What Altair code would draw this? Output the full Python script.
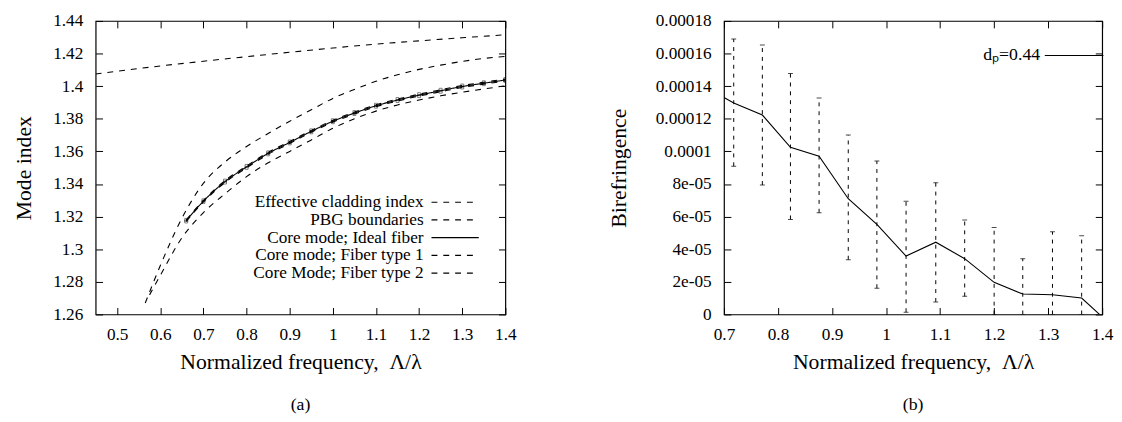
import altair as alt
import pandas as pd

FONT = "Liberation Serif"

# ---------------- Panel (a): mode index ----------------
series_names = [
    "Effective cladding index",
    "PBG boundaries",
    "Core mode; Ideal fiber",
    "Core mode; Fiber type 1",
    "Core Mode; Fiber type 2",
]

clad_x = [0.45, 0.5, 0.6, 0.7, 0.8, 0.9, 1.0, 1.1, 1.2, 1.3, 1.4]
clad_y = [1.4075, 1.4092, 1.4124, 1.4153, 1.4181, 1.4208, 1.4234, 1.4258, 1.4278, 1.4297, 1.4315]

pbg_up_x = [0.565, 0.6, 0.65, 0.7, 0.75, 0.8, 0.85, 0.9, 0.95, 1.0, 1.05, 1.1, 1.15, 1.2, 1.25, 1.3, 1.35, 1.4]
pbg_up_y = [1.267, 1.290, 1.319, 1.3405, 1.3535, 1.3630, 1.371, 1.3785, 1.3855, 1.3925, 1.398, 1.403, 1.407, 1.4103, 1.4129, 1.4152, 1.417, 1.4183]

pbg_lo_x = [0.575, 0.6, 0.65, 0.7, 0.75, 0.8, 0.85, 0.9, 0.95, 1.0, 1.05, 1.1, 1.15, 1.2, 1.25, 1.3, 1.35, 1.4]
pbg_lo_y = [1.272, 1.284, 1.3070, 1.3225, 1.334, 1.3445, 1.3530, 1.3600, 1.3670, 1.3742, 1.380, 1.3847, 1.3885, 1.3915, 1.3941, 1.3963, 1.3983, 1.4002]

core_x = [0.66, 0.70, 0.75, 0.80, 0.85, 0.90, 0.95, 1.00, 1.05, 1.10, 1.15, 1.20, 1.25, 1.30, 1.35, 1.40]
core_ideal = [1.3175, 1.3295, 1.3415, 1.3505, 1.3588, 1.3655, 1.3723, 1.3785, 1.3835, 1.3880, 1.3915, 1.3945, 1.3972, 1.3998, 1.4018, 1.4038]
core_type1 = [1.3180, 1.3300, 1.3421, 1.3511, 1.3594, 1.3661, 1.3729, 1.3791, 1.3841, 1.3886, 1.3921, 1.3951, 1.3978, 1.4004, 1.4024, 1.4044]
core_type2 = [1.3170, 1.3290, 1.3409, 1.3499, 1.3582, 1.3649, 1.3717, 1.3779, 1.3829, 1.3874, 1.3909, 1.3939, 1.3966, 1.3992, 1.4012, 1.4032]

dash_styles = [[6, 6], [6, 6], [1, 0], [6, 6], [6, 6]]

x_ticks_a = [0.5, 0.6, 0.7, 0.8, 0.9, 1.0, 1.1, 1.2, 1.3, 1.4]
y_ticks_a = [1.26, 1.28, 1.30, 1.32, 1.34, 1.36, 1.38, 1.40, 1.42, 1.44]

# ---------------- Panel (b): birefringence ----------------
biref_label = "dₚ=0.44"
line_x = [0.7, 0.718, 0.771, 0.823, 0.876, 0.930, 0.983, 1.037, 1.092, 1.1455, 1.200, 1.253, 1.308, 1.362, 1.395]
line_y = [1.33e-4, 1.297e-4, 1.223e-4, 1.025e-4, 0.971e-4, 0.71e-4, 0.553e-4, 0.358e-4,
          0.443e-4, 0.342e-4, 0.197e-4, 0.125e-4, 0.121e-4, 0.101e-4, 0.0]
err_x = [0.718, 0.771, 0.823, 0.876, 0.930, 0.983, 1.037, 1.092, 1.1455, 1.200, 1.253, 1.308, 1.362]
err_hi = [1.689e-4, 1.653e-4, 1.478e-4, 1.327e-4, 1.10e-4, 0.941e-4, 0.694e-4, 0.808e-4,
          0.579e-4, 0.533e-4, 0.342e-4, 0.507e-4, 0.483e-4]
err_lo = [0.909e-4, 0.794e-4, 0.583e-4, 0.624e-4, 0.336e-4, 0.161e-4, 0.014e-4, 0.077e-4,
          0.111e-4, 0.0, 0.0, 0.0, 0.0]

x_ticks_b = [0.7, 0.8, 0.9, 1.0, 1.1, 1.2, 1.3, 1.4]
y_ticks_b = [0, 2e-5, 4e-5, 6e-5, 8e-5, 1e-4, 1.2e-4, 1.4e-4, 1.6e-4, 1.8e-4]

# ---------------- build tables ----------------
rows = []
for x, y in zip(clad_x, clad_y):
    rows.append({"x": x, "y": y, "series": series_names[0], "branch": "clad"})
for x, y in zip(pbg_up_x, pbg_up_y):
    rows.append({"x": x, "y": y, "series": series_names[1], "branch": "pbg_up"})
for x, y in zip(pbg_lo_x, pbg_lo_y):
    rows.append({"x": x, "y": y, "series": series_names[1], "branch": "pbg_lo"})
for vals, name in [(core_ideal, series_names[2]), (core_type1, series_names[3]), (core_type2, series_names[4])]:
    for x, y in zip(core_x, vals):
        rows.append({"x": x, "y": y, "series": name, "branch": name})
dfa = pd.DataFrame(rows)
df_markers = dfa[dfa["series"].isin(series_names[3:])]

df_line = pd.DataFrame({"x": line_x, "y": line_y, "label": biref_label})
df_err = pd.DataFrame({"x": err_x, "hi": err_hi, "lo": err_lo})

TICK = 7


def axis(orient, values=None, fmt=None, title=None, labels=True, label_pad=12, title_pad=10, label_expr=None):
    kw = dict(
        orient=orient, domain=False, ticks=True, tickSize=TICK, offset=-TICK,
        tickColor="black", tickWidth=1, grid=False, labels=labels, tickCount=30,
        labelFont=FONT, labelFontSize=17.5, labelColor="black", labelPadding=label_pad,
        labelFlush=False, labelOverlap=False,
        titleFont=FONT, titleFontSize=22, titleFontWeight="normal", titleColor="black",
        titlePadding=title_pad,
    )
    if values is not None:
        kw["values"] = values
    if fmt is not None:
        kw["format"] = fmt
    if label_expr is not None:
        kw["labelExpr"] = label_expr
    kw["title"] = title if title is not None else ""
    return alt.Axis(**kw)


# ---------------- Panel (a) chart ----------------
xs_a = alt.Scale(domain=[0.45, 1.4], nice=False, zero=False)
ys_a = alt.Scale(domain=[1.26, 1.44], nice=False, zero=False)

lines_a = alt.Chart(dfa).mark_line(color="black", strokeWidth=1.1, clip=True, interpolate="monotone").encode(
    x=alt.X("x:Q", scale=xs_a,
            axis=axis("bottom", x_ticks_a, ".1~f", "Normalized frequency,\u00a0 Λ/λ", label_pad=11, title_pad=9)),
    y=alt.Y("y:Q", scale=ys_a,
            axis=axis("left", y_ticks_a, ".2~f", "Mode index", label_pad=13, title_pad=18)),
    strokeDash=alt.StrokeDash(
        "series:N",
        scale=alt.Scale(domain=series_names, range=dash_styles),
        sort=series_names,
        legend=alt.Legend(
            title=None, orient="none", legendX=356, legendY=175,
            symbolType="M-3,0H3", symbolSize=256, symbolStrokeWidth=1.1,
            symbolStrokeColor="black", symbolFillColor="transparent",
            labelAlign="right", labelOffset={"expr": "-41"}, labelFont=FONT, labelFontSize=17.5,
            labelColor="black", labelLimit=400, rowPadding=0, padding=0,
        ),
    ),
    detail="branch:N",
)

markers_a = alt.Chart(df_markers).mark_point(
    shape="square", size=9, filled=False, color="black", strokeWidth=0.7, clip=True
).encode(
    x=alt.X("x:Q", scale=xs_a),
    y=alt.Y("y:Q", scale=ys_a),
)

mirror_a = alt.Chart(dfa).mark_point(opacity=0).encode(
    x=alt.X("x:Q", scale=xs_a, axis=axis("top", x_ticks_a, labels=False)),
    y=alt.Y("y:Q", scale=ys_a, axis=axis("right", y_ticks_a, labels=False)),
)

panel_a = alt.layer(
    alt.layer(lines_a, markers_a), mirror_a
).resolve_axis(x="independent", y="independent").properties(
    width=416, height=298,
    title=alt.TitleParams("(a)", orient="bottom", font=FONT, fontSize=18, fontWeight="normal",
                          color="black", offset=25, anchor="middle", frame="group"),
)

# ---------------- Panel (b) chart ----------------
xs_b = alt.Scale(domain=[0.7, 1.4], nice=False, zero=False)
ys_b = alt.Scale(domain=[0, 1.8e-4], nice=False, zero=False)

ylab_b = ("datum.value == 0 ? '0' : (datum.value < 0.0000999 ? "
          "format(datum.value * 100000, 'd') + 'e-05' : format(datum.value, '.5~f'))")

line_b = alt.Chart(df_line).mark_line(strokeWidth=1.1, clip=True).encode(
    x=alt.X("x:Q", scale=xs_b,
            axis=axis("bottom", x_ticks_b, ".1~f", "Normalized frequency,\u00a0 Λ/λ", label_pad=11, title_pad=9)),
    y=alt.Y("y:Q", scale=ys_b,
            axis=axis("left", y_ticks_b, None, "Birefringence", label_pad=13, title_pad=25, label_expr=ylab_b)),
    color=alt.Color(
        "label:N",
        scale=alt.Scale(domain=[biref_label], range=["black"]),
        legend=alt.Legend(
            title=None, orient="none", legendX=346, legendY=25.5,
            symbolType="M-3.5,0H3.5", symbolSize=289, symbolStrokeWidth=1.1,
            symbolFillColor="transparent",
            labelAlign="right", labelOffset={"expr": "-44"}, labelFont=FONT, labelFontSize=18,
            labelColor="black", labelLimit=400, padding=0,
        ),
    ),
)

err_b = alt.Chart(df_err).mark_rule(color="black", strokeWidth=1, strokeDash=[4, 5], clip=True).encode(
    x=alt.X("x:Q", scale=xs_b),
    y=alt.Y("lo:Q", scale=ys_b),
    y2="hi:Q",
)
cap_hi = alt.Chart(df_err).mark_tick(color="black", orient="horizontal", size=5, thickness=1, clip=True).encode(
    x=alt.X("x:Q", scale=xs_b),
    y=alt.Y("hi:Q", scale=ys_b),
)
cap_lo = alt.Chart(df_err).mark_tick(color="black", orient="horizontal", size=5, thickness=1, clip=True).encode(
    x=alt.X("x:Q", scale=xs_b),
    y=alt.Y("lo:Q", scale=ys_b),
)

mirror_b = alt.Chart(df_line).mark_point(opacity=0).encode(
    x=alt.X("x:Q", scale=xs_b, axis=axis("top", x_ticks_b, labels=False)),
    y=alt.Y("y:Q", scale=ys_b, axis=axis("right", y_ticks_b, labels=False)),
)

panel_b = alt.layer(
    alt.layer(err_b, cap_hi, cap_lo, line_b), mirror_b
).resolve_axis(x="independent", y="independent").properties(
    width=384, height=298,
    title=alt.TitleParams("(b)", orient="bottom", font=FONT, fontSize=18, fontWeight="normal",
                          color="black", offset=25, anchor="middle", frame="group"),
)

chart = alt.hconcat(panel_a, panel_b, spacing=91).resolve_legend(
    color="independent", strokeDash="independent"
).properties(
    padding={"left": 3, "top": 0, "right": 0, "bottom": 0},
    background="white",
).configure_view(stroke="black", strokeWidth=1.2)

chart.save("out.html", embed_options={"renderer": "svg", "actions": False})
